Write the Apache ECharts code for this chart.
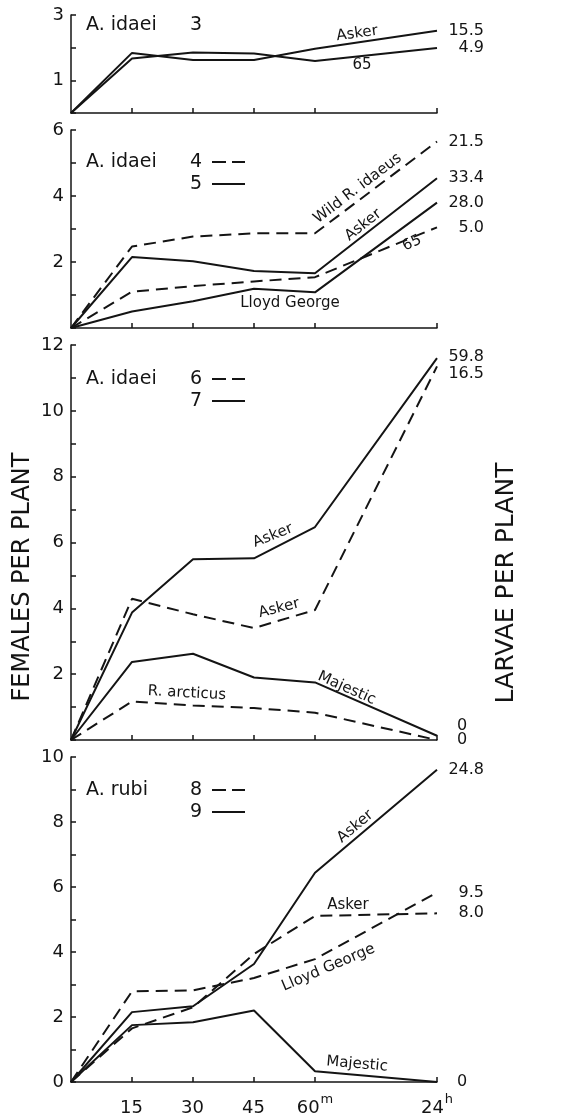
<!DOCTYPE html>
<html>
<head>
<meta charset="utf-8">
<script src="https://cdn.jsdelivr.net/npm/echarts@6/dist/echarts.min.js"></script>
<style>
  html, body { margin: 0; padding: 0; background: #fff; }
  #chart { width: 567px; height: 1120px; }
</style>
</head>
<body>
<div id="chart"></div>
<script>
// Sampling times: 0, 15, 30, 45, 60 minutes and 24 hours (the 24 h point sits two steps right of 60 min)
const timeLabels = ['0', '15', '30', '45', '60m', '24h'];
const timeSteps = [0, 1, 2, 3, 4, 6];

// Females per plant, A. idaei experiment 3
const idaei3Asker = [0, 1.84, 1.62, 1.62, 1.97, 2.52];
const idaei3Sel65 = [0, 1.67, 1.85, 1.82, 1.59, 1.99];
// A. idaei experiment 4 (dashed) and 5 (solid)
const idaei4Wild = [0, 2.47, 2.77, 2.87, 2.87, 5.65];
const idaei4Sel65 = [0, 1.10, 1.27, 1.41, 1.54, 3.05];
const idaei5Asker = [0, 2.15, 2.02, 1.73, 1.66, 4.54];
const idaei5Lloyd = [0, 0.50, 0.81, 1.19, 1.08, 3.80];
// A. idaei experiment 6 (dashed) and 7 (solid)
const idaei6Asker = [0, 4.29, 3.82, 3.40, 3.95, 11.35];
const idaei6Arcticus = [0, 1.17, 1.05, 0.97, 0.83, 0];
const idaei7Asker = [0, 3.87, 5.49, 5.52, 6.47, 11.6];
const idaei7Majestic = [0, 2.37, 2.62, 1.90, 1.75, 0.13];
// A. rubi experiment 8 (dashed) and 9 (solid)
const rubi8Asker = [0, 1.65, 2.30, 3.94, 5.11, 5.19];
const rubi8Lloyd = [0, 2.79, 2.82, 3.20, 3.78, 5.83];
const rubi9Asker = [0, 2.15, 2.33, 3.63, 6.44, 9.61];
const rubi9Majestic = [0, 1.75, 1.84, 2.20, 0.33, 0];

// Larvae per plant after 24 h, written at the end of each line
const larvae = {
  idaei3Asker: '15.5', idaei3Sel65: '4.9',
  idaei4Wild: '21.5', idaei5Asker: '33.4', idaei5Lloyd: '28.0', idaei4Sel65: '5.0',
  idaei7Asker: '59.8', idaei6Asker: '16.5', idaei7Majestic: '0', idaei6Arcticus: '0',
  rubi9Asker: '24.8', rubi8Lloyd: '9.5', rubi8Asker: '8.0', rubi9Majestic: '0'
};

// Y-axis ranges and labelled values for the four panels
const panelMax = [3, 6, 12, 10];
const panelLabelValues = [[1, 3], [2, 4, 6], [2, 4, 6, 8, 10, 12], [0, 2, 4, 6, 8, 10]];

const INK = '#141414';
const FONT = 'DejaVu Sans';
const DASH = [12, 7];

const chart = echarts.init(document.getElementById('chart'), null, { renderer: 'canvas' });

const gridBoxes = [
  { left: 71, top: 15, width: 366, height: 98 },
  { left: 71, top: 130, width: 366, height: 198 },
  { left: 71, top: 345, width: 366, height: 395 },
  { left: 71, top: 757, width: 366, height: 325 }
];

const tickSteps = [1, 2, 3, 4, 6];

const xAxes = gridBoxes.map((g, i) => ({
  type: 'value', gridIndex: i, min: 0, max: 6, interval: 1,
  axisLine: { show: true, lineStyle: { color: INK, width: 1.5 } },
  axisTick: { show: true, inside: true, length: 5, customValues: tickSteps, lineStyle: { color: INK, width: 1.5 } },
  splitLine: { show: false },
  axisLabel: i === 3 ? {
    show: true, customValues: tickSteps, margin: 11,
    color: INK, fontFamily: FONT, fontSize: 18,
    formatter: v => {
      const t = timeLabels[timeSteps.indexOf(v)] || '';
      const m = t.match(/^(\d+)([a-z]?)$/);
      if (!m) return t;
      // unit letters (m, h) are set as raised superscripts
      return '{base|' + m[1] + '}{sup|' + (m[2] || '\u200b') + '}';
    },
    rich: {
      base: { fontSize: 18, fontFamily: FONT, color: INK, lineHeight: 20, padding: [10, 0, 0, 0] },
      sup: { fontSize: 13, fontFamily: FONT, color: INK, lineHeight: 10, padding: [0, 0, 6, 1] }
    }
  } : { show: false }
}));

const yAxes = gridBoxes.map((g, i) => ({
  type: 'value', gridIndex: i, min: 0, max: panelMax[i], interval: 1,
  axisLine: { show: true, lineStyle: { color: INK, width: 1.5 } },
  axisTick: { show: true, inside: true, length: 5, lineStyle: { color: INK, width: 1.5 } },
  splitLine: { show: false },
  axisLabel: {
    show: true, customValues: panelLabelValues[i], margin: 7,
    color: INK, fontFamily: FONT, fontSize: 18
  }
}));

function lineSeries(key, grid, values, dashed, endOpts) {
  const e = Object.assign({ align: 'right', distance: 47, offset: [0, 0] }, endOpts || {});
  return {
    type: 'line', name: key, xAxisIndex: grid, yAxisIndex: grid,
    data: timeSteps.map((x, i) => [x, values[i]]),
    symbol: 'none', silent: true,
    lineStyle: { color: INK, width: 2, type: dashed ? DASH : 'solid' },
    endLabel: {
      show: true, formatter: () => larvae[key],
      color: INK, fontFamily: FONT, fontSize: 16,
      align: e.align, distance: e.distance, offset: e.offset
    }
  };
}

const zeroEnd = { align: 'left', distance: 20 };

const series = [
  lineSeries('idaei3Asker', 0, idaei3Asker, false),
  lineSeries('idaei3Sel65', 0, idaei3Sel65, false),
  lineSeries('idaei4Wild', 1, idaei4Wild, true),
  lineSeries('idaei4Sel65', 1, idaei4Sel65, true),
  lineSeries('idaei5Asker', 1, idaei5Asker, false),
  lineSeries('idaei5Lloyd', 1, idaei5Lloyd, false),
  lineSeries('idaei6Asker', 2, idaei6Asker, true, { offset: [0, 7] }),
  lineSeries('idaei6Arcticus', 2, idaei6Arcticus, true, zeroEnd),
  lineSeries('idaei7Asker', 2, idaei7Asker, false, { offset: [0, -1] }),
  lineSeries('idaei7Majestic', 2, idaei7Majestic, false, Object.assign({ offset: [0, -10] }, zeroEnd)),
  lineSeries('rubi8Asker', 3, rubi8Asker, true),
  lineSeries('rubi8Lloyd', 3, rubi8Lloyd, true),
  lineSeries('rubi9Asker', 3, rubi9Asker, false),
  lineSeries('rubi9Majestic', 3, rubi9Majestic, false, zeroEnd)
];

chart.setOption({
  animation: false,
  backgroundColor: '#fff',
  grid: gridBoxes.map(g => Object.assign({ containLabel: false }, g)),
  xAxis: xAxes,
  yAxis: yAxes,
  series: series
});

// Variety names written along the lines, anchored in data coordinates
const lineNames = [
  { grid: 0, text: 'Asker', at: [4.69, 2.43], rot: 8 },
  { grid: 0, text: '65', at: [4.77, 1.46], rot: 0 },
  { grid: 1, text: 'Wild R. idaeus', at: [4.70, 4.23], rot: 37 },
  { grid: 1, text: 'Asker', at: [4.79, 3.12], rot: 38 },
  { grid: 1, text: '65', at: [5.59, 2.57], rot: 25 },
  { grid: 1, text: 'Lloyd George', at: [3.59, 0.76], rot: 0 },
  { grid: 2, text: 'Asker', at: [3.31, 6.21], rot: 22 },
  { grid: 2, text: 'Asker', at: [3.41, 4.00], rot: 14 },
  { grid: 2, text: 'Majestic', at: [4.52, 1.57], rot: -24 },
  { grid: 2, text: 'R. arcticus', at: [1.90, 1.42], rot: -3 },
  { grid: 3, text: 'Asker', at: [4.66, 7.86], rot: 40 },
  { grid: 3, text: 'Asker', at: [4.54, 5.44], rot: 0 },
  { grid: 3, text: 'Lloyd George', at: [4.22, 3.52], rot: 23 },
  { grid: 3, text: 'Majestic', at: [4.69, 0.55], rot: -5 }
];

const graphics = [];

lineNames.forEach(n => {
  const p = chart.convertToPixel({ gridIndex: n.grid }, n.at);
  graphics.push({
    type: 'text', x: p[0], y: p[1], rotation: n.rot * Math.PI / 180, silent: true,
    style: { text: n.text, fill: INK, font: '15px "' + FONT + '"', align: 'center', verticalAlign: 'middle' }
  });
});

// Panel keys: species name, experiment numbers and line-style samples
function keyText(x, y, text, size) {
  return { type: 'text', x: x, y: y, silent: true,
    style: { text: text, fill: INK, font: size + 'px "' + FONT + '"', align: 'left', verticalAlign: 'middle' } };
}
function keySample(x, y, dashed) {
  return { type: 'line', silent: true,
    shape: { x1: x, y1: y, x2: x + 33, y2: y },
    style: { stroke: INK, lineWidth: 1.8, lineDash: dashed ? [14, 6] : null } };
}
const keys = [
  { y: 25, species: 'A. idaei', rows: [['3', null]] },
  { y: 162, species: 'A. idaei', rows: [['4', true], ['5', false]] },
  { y: 379, species: 'A. idaei', rows: [['6', true], ['7', false]] },
  { y: 790, species: 'A. rubi', rows: [['8', true], ['9', false]] }
];
keys.forEach(k => {
  graphics.push(keyText(86, k.y, k.species, 19));
  k.rows.forEach((r, j) => {
    const y = k.y + j * 22;
    graphics.push(keyText(190, y, r[0], 19));
    if (r[1] !== null) graphics.push(keySample(212, y, r[1]));
  });
});

// Axis titles
graphics.push({
  type: 'text', x: 23, y: 577, rotation: Math.PI / 2, silent: true,
  style: { text: 'FEMALES PER PLANT', fill: INK, font: '24px "' + FONT + '"', align: 'center', verticalAlign: 'middle' }
});
graphics.push({
  type: 'text', x: 506, y: 583, rotation: Math.PI / 2, silent: true,
  style: { text: 'LARVAE PER PLANT', fill: INK, font: '25px "' + FONT + '"', align: 'center', verticalAlign: 'middle' }
});

chart.setOption({ graphic: graphics });
</script>
</body>
</html>
